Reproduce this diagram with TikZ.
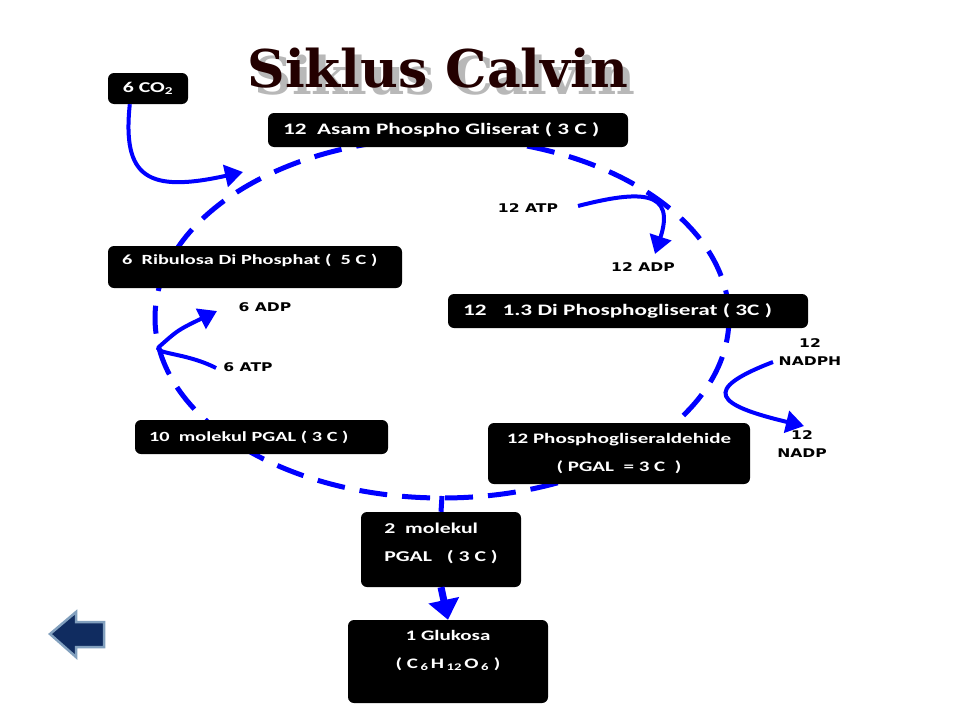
\documentclass[tikz,border=0pt]{standalone}
\usepackage{fontspec}
\setmainfont{Carlito}
\newfontfamily\boxfont[FakeStretch=1.45]{Carlito}
\newfontfamily\labfont[FakeStretch=1.3]{DejaVu Sans}
\newfontfamily\titlefont{DejaVu Serif}
\usetikzlibrary{arrows.meta}
\definecolor{navy}{RGB}{16,44,96}
\definecolor{steel}{RGB}{130,160,190}
\definecolor{titlered}{RGB}{35,0,0}
\newcommand\boxsize[1]{\fontsize{#1}{28}\selectfont}

\begin{document}
\begin{tikzpicture}[x=1pt,y=-1pt,
                    box/.style={fill=black,rounded corners=6pt,text=white,inner sep=0pt,
                                font=\boxfont\bfseries\boxsize{16}},
                    lab/.style={align=center,font=\labfont\bfseries\fontsize{12}{18}\selectfont},
                    flow/.style={draw=blue,line width=4pt,-{Triangle[length=18pt,width=22pt]}},
                    cycle/.style={draw=blue,line width=5pt,dash pattern=on 28pt off 15pt}
]
\useasboundingbox[fill=white] (0,0) rectangle (960,720);

% the cycle
\draw[cycle] (442,318) ellipse [x radius=287pt, y radius=180pt];
\coordinate (cycbot) at (442,496);

% title
\node[font=\titlefont\bfseries\fontsize{52}{56}\selectfont,text=black!28] (titleshadow) at (445,75) {Siklus Calvin};
\node[font=\titlefont\bfseries\fontsize{52}{56}\selectfont,text=titlered] (title) at (438,68) {Siklus Calvin};

% boxes
\node[box,minimum width=80pt,minimum height=31pt,font=\boxfont\bfseries\boxsize{15}] (co2) at (148,88.5) {6 CO\textsubscript{2}};
\node[box,minimum width=360pt,minimum height=34pt,text width=330pt,align=left] (apg) at (448,130) {\mbox{12\ \ Asam Phospho Gliserat ( 3 C )}};
\node[box,minimum width=294pt,minimum height=42pt,text width=266pt,align=left,text height=10pt,text depth=16pt,
      font=\boxfont\bfseries\boxsize{14}] (rdp) at (255,267) {\mbox{6\ \ Ribulosa Di Phosphat (\ \ 5 C )}};
\node[box,minimum width=360pt,minimum height=34pt,text width=330pt,align=left] (dpg) at (628,311) {\mbox{12\ \ \ 1.3 Di Phosphogliserat ( 3C )}};
\node[box,minimum width=253pt,minimum height=34pt,text width=225pt,align=left,
      font=\boxfont\bfseries\boxsize{14}] (pgal10) at (261.5,437) {\mbox{10\ \ molekul PGAL ( 3 C )}};
\node[box,minimum width=262pt,minimum height=61pt,align=center,font=\boxfont\bfseries\boxsize{14.5}] (pgal12) at (619,453.5) {12 Phosphogliseraldehide\\( PGAL\ \ = 3 C\ \ )};
\node[box,minimum width=160pt,minimum height=75pt,font=\boxfont\bfseries\boxsize{15}] (pgal2) at (441,549.5)
  {\raisebox{8pt}[\height][\depth]{\begin{tabular}{@{}l@{}}2\ \ molekul\\PGAL\ \ \ ( 3 C )\end{tabular}}};
\node[box,minimum width=200pt,minimum height=83pt,align=center,font=\boxfont\bfseries\boxsize{14.5}] (gluc) at (448,661.5) {1 Glukosa\\( C\,\textsubscript{6}\,H\,\textsubscript{12}\,O\,\textsubscript{6} )\\[-4pt]};

% energy labels
\node[lab] (atp12) at (528,208) {12 ATP};
\node[lab] (adp12) at (643,267) {12 ADP};
\node[lab] (adp6) at (265,307) {6 ADP};
\node[lab] (atp6) at (248,367) {6 ATP};
\node[lab] (nadph) at (810,352) {12\\NADPH};
\node[lab] (nadp) at (802,444) {12\\NADP};

% arrows
\coordinate (co2in) at (243,172);
\draw[flow] ([xshift=22pt]co2.south west) .. controls (122,178) and (148,193) .. (co2in);
\coordinate (atpout) at (578,206);
\coordinate (adpin) at (655,254);
\draw[flow] (atpout) .. controls (640,190) and (676,190) .. (adpin);
\coordinate (nadphout) at (773,362);
\coordinate (nadpin) at (804,426);
\draw[flow] (nadphout) .. controls (700,390) and (716,405) .. (nadpin);
\coordinate (atp6out) at (216,368);
\coordinate (bend6) at (160,346);
\coordinate (adp6in) at (217,311);
\draw[flow] (atp6out) .. controls (185,352) and (150,354) .. (bend6) .. controls (178,330) .. (adp6in);
\draw[draw=blue,line width=5pt] (cycbot) -- (pgal2.north);
\draw[draw=blue,line width=7pt,-{Triangle[length=20pt,width=30pt]}] (pgal2.south) -- (gluc.north);

% back button
\filldraw[fill=navy,draw=steel,line width=2.5pt]
  (50,634) -- (76,612) -- (76,622) -- (104,622) -- (104,647) -- (76,647) -- (76,657) -- cycle;
\end{tikzpicture}
\end{document}
